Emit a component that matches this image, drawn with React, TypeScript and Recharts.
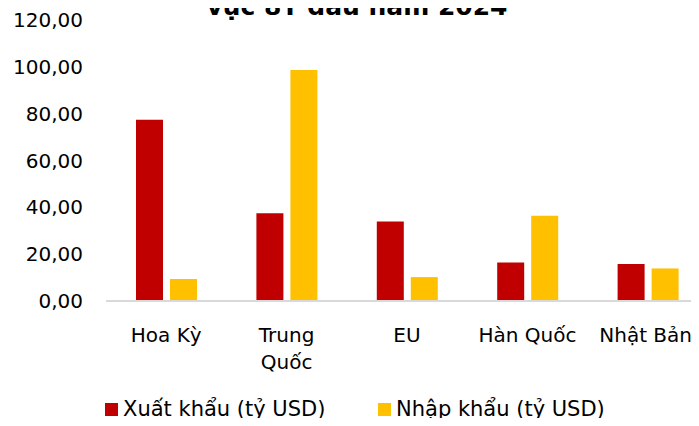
import React from "react";
import { BarChart, Bar, XAxis, YAxis } from "recharts";

const categories = ["Hoa Kỳ", "Trung Quốc", "EU", "Hàn Quốc", "Nhật Bản"];
const exportValues = [77.4, 37.5, 34.0, 16.4, 15.8];
const importValues = [9.4, 98.7, 10.2, 36.4, 13.9];
const yTicks = [0, 20, 40, 60, 80, 100, 120];
const tickLines: Record<string, string[]> = { "Trung Quốc": ["Trung", "Quốc"] };

const titleLine = "vực 8T đầu năm 2024";
const exportName = "Xuất khẩu (tỷ USD)";
const importName = "Nhập khẩu (tỷ USD)";

const RED = "#c00000";
const YELLOW = "#ffc000";
const FONT = "'DejaVu Sans', Verdana, sans-serif";

const data = categories.map((name, i) => ({
  name,
  export: exportValues[i],
  import: importValues[i],
}));

function fmt(v: any) {
  return Number(v).toFixed(2).replace(".", ",");
}

// last label would run off the right edge, so pin it there like Excel does
function CategoryTick(props: any) {
  const { x, y, payload } = props;
  const lines = tickLines[payload.value] ?? [payload.value];
  const nearEdge = x > 620;
  return (
    <g>
      {lines.map((line, i) => (
        <text
          key={i}
          x={nearEdge ? 692 : x}
          y={y + 41 + i * 27}
          textAnchor={nearEdge ? "end" : "middle"}
          fill="#000"
          fontSize={20}
          fontFamily={FONT}
        >
          {line}
        </text>
      ))}
    </g>
  );
}

function LegendItem({ color, label, left }: { color: string; label: string; left: number }) {
  return (
    <div
      style={{
        position: "absolute",
        left,
        top: 397,
        height: 24,
        display: "flex",
        alignItems: "center",
        fontFamily: FONT,
        fontSize: 21,
        lineHeight: "24px",
        color: "#000",
        whiteSpace: "nowrap",
      }}
    >
      <span style={{ display: "inline-block", width: 13, height: 13, background: color, marginRight: 5 }} />
      <span>{label}</span>
    </div>
  );
}

export default function App() {
  return (
    <div
      style={{
        position: "relative",
        width: 699,
        height: 426,
        margin: -8,
        overflow: "hidden",
        background: "#fff",
      }}
    >
      <BarChart
        width={720}
        height={426}
        data={data}
        margin={{ top: 20, right: 12, bottom: 95, left: 0 }}
        barSize={27}
        barGap={7}
      >
        <XAxis
          dataKey="name"
          height={30}
          tickLine={false}
          tickSize={0}
          tickMargin={0}
          axisLine={{ stroke: "#d9d9d9", strokeWidth: 2 }}
          tick={<CategoryTick />}
          interval={0}
        />
        <YAxis
          width={106}
          domain={[0, 120]}
          ticks={yTicks}
          axisLine={false}
          tickLine={false}
          tickSize={0}
          tickMargin={23}
          tickFormatter={fmt}
          tick={{ fill: "#000", fontSize: 20, fontFamily: FONT }}
        />
        <Bar dataKey="export" name={exportName} fill={RED} isAnimationActive={false} />
        <Bar dataKey="import" name={importName} fill={YELLOW} isAnimationActive={false} />
      </BarChart>

      <svg style={{ position: "absolute", left: 0, top: 0 }} width={699} height={30}>
        <text
          x={357}
          y={15}
          textAnchor="middle"
          fontFamily={FONT}
          fontWeight="bold"
          fontSize={25}
          fill="#000"
        >
          {titleLine}
        </text>
      </svg>

      <LegendItem color={RED} label={exportName} left={105} />
      <LegendItem color={YELLOW} label={importName} left={378} />
    </div>
  );
}
